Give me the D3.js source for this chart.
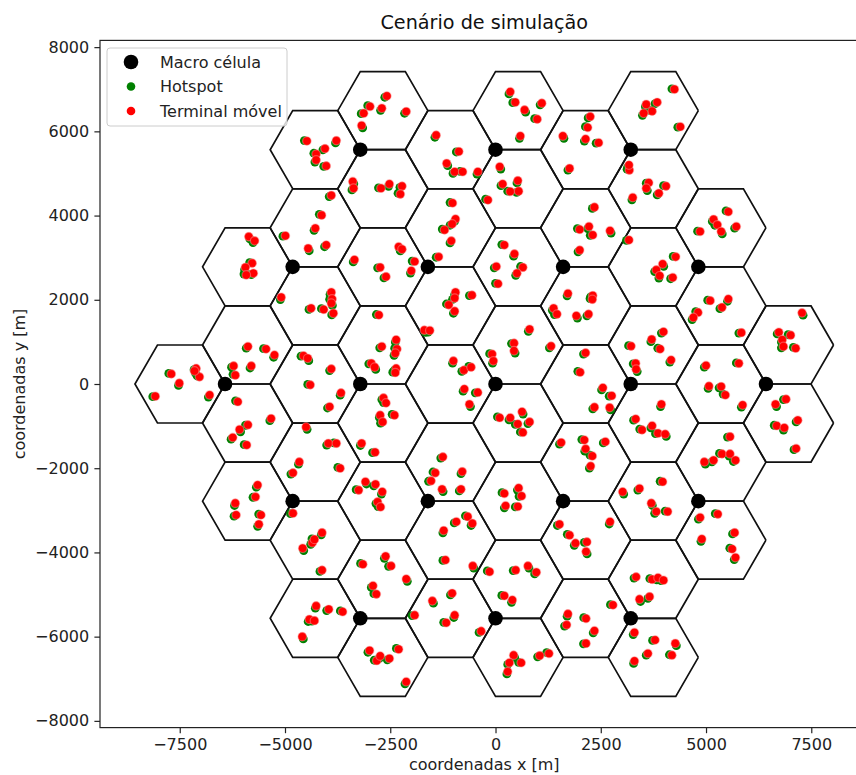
<!DOCTYPE html>
<html>
<head>
<meta charset="utf-8">
<script src="https://cdn.jsdelivr.net/npm/d3@7"></script>
<style>
  body { margin: 0; background: #fff; }
  svg { font-family: "DejaVu Sans", sans-serif; }
</style>
</head>
<body>
<svg id="cenario" width="856" height="775"></svg>
<script>
// limites dos eixos e marcas
var xLim = [-9394, 8859];
var yLim = [-8160, 8160];
var xTicks = [-7500, -5000, -2500, 0, 2500, 5000, 7500];
var yTicks = [-8000, -6000, -4000, -2000, 0, 2000, 4000, 6000, 8000];

// raio do hexagono de cada setor [m]
var raioCelula = 1070;

// posicoes das macro celulas [m]
var macroX = [0, 3212, 6424, -3212, -6424, 1606, 4818, -1606, -4818, 1606, 4818, -1606, -4818, 0, 3212, -3212, 0, 3212, -3212];
var macroY = [0, 0, 0, 0, 0, 2782, 2782, 2782, 2782, -2782, -2782, -2782, -2782, 5564, 5564, 5564, -5564, -5564, -5564];

var legendaTextos = ["Macro célula", "Hotspot", "Terminal móvel"];

// hotspots [x, y] em metros
var hotspots = [
[-2630,6810],[-3035,6610],[-2730,6500],[-3190,6420],[-3155,6085],[-2160,6430],[-4540,5780],[-3800,5725],
[-4100,5560],[-4315,5480],[-4290,5270],[-4080,5170],[-3365,4755],[-3410,4610],[-2780,4660],[-2540,4695],
[-2270,4670],[-2315,4530],[-1440,5860],[-930,5510],[-1135,5185],[-1010,5000],[-840,5050],[-440,4985],
[-3950,4450],[-4185,4030],[-4310,3650],[-5050,3510],[-4425,3165],[-4060,3260],[-1080,4310],[-970,3865],
[-1080,3770],[-1265,3680],[-1080,3350],[-1410,3010],[-5835,3445],[-5760,3360],[-5840,2880],[-5960,2715],
[-5800,2600],[-5975,2610],[-3380,2900],[-2800,2760],[-2275,3205],[-2260,3160],[-1980,2920],[-2020,2635],
[-2650,2520],[-235,4390],[320,6890],[410,6680],[715,6455],[1060,6630],[930,6300],[570,5835],
[2200,6320],[2135,6110],[2110,5770],[2390,5720],[1625,5835],[1720,5080],[4190,7010],[3560,6585],
[3790,6660],[3665,6500],[3490,6380],[4330,6100],[125,5105],[130,4710],[290,4580],[510,4775],
[500,4550],[3125,5100],[3140,5150],[3580,4770],[3605,4595],[3840,4490],[3990,4710],[3240,4375],
[2300,4170],[1945,3690],[2190,3690],[2250,3530],[2745,3585],[1960,3140],[150,3310],[430,3035],
[-30,2760],[595,2790],[480,2580],[3110,3410],[3995,2795],[3780,2670],[4220,3030],[3880,2515],
[4160,2500],[5475,4110],[5150,3860],[5210,3770],[5385,3565],[5680,3700],[4800,3630],[-5110,2005],
[-4430,1770],[-4135,1790],[-3930,2130],[-3940,2010],[-3875,1865],[-3890,1640],[-2830,1650],[-2380,995],
[-2750,860],[-2395,850],[-2410,680],[-3010,480],[-2845,345],[-2400,330],[-2440,280],[-970,2125],
[-1020,2010],[-1165,1900],[-1000,1680],[-620,2100],[-1665,1225],[-1600,1230],[-7760,250],[-7530,-35],
[-7160,340],[-7085,190],[-6820,-310],[-8140,-300],[-7125,255],[-5920,850],[-5510,840],[-5270,635],
[-6270,400],[-6235,230],[-5830,380],[-4620,660],[-4435,555],[-3940,320],[-4460,-10],[-3690,-265],
[-3990,-570],[-6175,-400],[-5360,-870],[-5940,-980],[-6055,-1135],[-6280,-1310],[-5970,-1440],[-1020,495],
[-800,300],[-635,420],[-770,-170],[-480,-210],[-595,-535],[-2700,-370],[-2660,-440],[-2760,-795],
[-2730,-930],[-2455,-720],[-3210,-1460],[-2920,-1630],[-4475,-1075],[-4010,-1450],[-3840,-1400],[-4680,-1905],
[-4860,-2140],[-3745,-1980],[-5680,-2450],[-5760,-2690],[-3065,-2375],[-2890,-2420],[-3310,-2510],[-2710,-2615],
[-1300,-1760],[-1485,-2090],[-820,-2130],[-1590,-2310],[-1245,-2555],[-860,-2540],[0,2390],[1700,2095],
[2260,2070],[2245,2030],[1350,1750],[1400,1650],[1945,1565],[2170,1620],[5040,1990],[5510,1965],
[5330,1790],[4755,1720],[4670,1530],[5780,1210],[7305,1635],[6690,1190],[6950,1170],[6790,995],
[6790,860],[7075,870],[780,1250],[380,960],[465,735],[1280,860],[-140,720],[-70,495],
[2090,710],[1955,300],[2520,-140],[2700,-290],[2735,-615],[2310,-590],[3160,910],[3690,1005],
[3940,1210],[3855,850],[4140,520],[3270,480],[3365,295],[4960,400],[5720,500],[5050,-105],
[5310,-90],[5405,-240],[5840,-550],[6840,-370],[6675,-535],[7140,-900],[6620,-980],[6840,-1095],
[7090,-1560],[45,-780],[320,-850],[470,-960],[655,-715],[770,-940],[590,-1140],[3920,-535],
[3280,-860],[3425,-1070],[3690,-1040],[3800,-1180],[4055,-1245],[1520,-1430],[2050,-1320],[2120,-1595],
[2560,-1400],[2245,-1690],[2230,-2000],[5510,-1260],[4985,-1905],[5140,-1850],[5320,-1650],[5550,-1715],
[5650,-1840],[155,-2580],[520,-2520],[560,-2670],[3045,-2615],[3380,-2520],[3910,-2310],[-6200,-2885],
[-6210,-3140],[-5625,-3090],[-5650,-3380],[-4870,-3080],[-4555,-3955],[-4390,-3810],[-4360,-3680],[-4140,-3585],
[-4170,-4450],[-3205,-4260],[-2640,-4140],[-2540,-4330],[-2095,-4685],[-2950,-4830],[-2890,-4980],[-1250,-3535],
[-980,-3300],[-715,-3130],[-580,-3360],[-1250,-4190],[-515,-4375],[-2840,-2840],[-2790,-2910],[-4280,-5325],
[-4010,-5380],[-3685,-5390],[-4450,-5640],[-4360,-5630],[-4565,-6055],[-3030,-6370],[-2880,-6560],[-2760,-6515],
[-2570,-6550],[-2355,-6280],[-2150,-7120],[-1980,-5500],[-1475,-5205],[-1070,-5010],[-1230,-5660],[-990,-5545],
[-390,-5900],[-195,-4440],[210,-2940],[470,-2920],[3725,-2885],[3780,-3070],[4030,-3020],[2700,-3325],
[1470,-3360],[1705,-3570],[1870,-3830],[2110,-3760],[2175,-4035],[4820,-3210],[5220,-3080],[4880,-3735],
[5630,-3560],[5565,-3900],[5670,-4170],[420,-4430],[795,-4375],[930,-4510],[150,-5020],[380,-5185],
[3290,-4610],[3665,-4620],[3830,-4650],[3930,-4670],[3445,-5165],[3620,-5090],[2730,-5240],[1700,-5515],
[1640,-5750],[2095,-5550],[2320,-5910],[2090,-6170],[455,-6495],[290,-6660],[550,-6610],[270,-6885],
[1000,-6480],[1215,-6380],[3270,-5950],[3730,-6090],[4295,-6215],[3580,-6440],[4130,-6430],[3280,-6635]
];

// terminais moveis [x, y] em metros
var terminais = [
[-2580,6840],[-2980,6590],[-2700,6550],[-3130,6430],[-3180,6140],[-2120,6470],[-4480,5770],[-3780,5780],
[-4050,5590],[-4260,5460],[-4260,5320],[-4020,5180],[-3390,4810],[-3370,4650],[-2720,4650],[-2520,4750],
[-2220,4700],[-2260,4510],[-1410,5910],[-870,5520],[-1160,5240],[-970,5040],[-780,5040],[-420,5040],
[-3900,4480],[-4130,4010],[-4280,3700],[-4990,3520],[-4450,3220],[-4020,3300],[-1020,4300],[-950,3920],
[-1030,3800],[-1210,3660],[-1050,3400],[-1350,3020],[-5860,3500],[-5720,3400],[-5780,2870],[-5940,2770],
[-5750,2630],[-5920,2590],[-3350,2950],[-2740,2770],[-2300,3260],[-2220,3200],[-1920,2910],[-2000,2690],
[-2600,2550],[-180,4370],[350,6940],[470,6690],[690,6510],[1100,6670],[990,6290],[590,5890],
[2250,6350],[2190,6090],[2140,5820],[2450,5730],[1600,5890],[1760,5120],[4250,7000],[3580,6640],
[3840,6690],[3720,6480],[3520,6430],[4390,6110],[100,5160],[170,4750],[350,4570],[530,4830],
[550,4580],[3180,5080],[3170,5200],[3640,4780],[3580,4650],[3880,4530],[4050,4700],[3260,4430],
[2350,4200],[2000,3670],[2220,3740],[2310,3540],[2720,3640],[2000,3180],[210,3300],[450,3090],
[20,2790],[650,2770],[510,2630],[3170,3420],[3970,2850],[3820,2710],[4280,3020],[3900,2570],
[4210,2530],[5530,4090],[5180,3910],[5270,3780],[5360,3620],[5720,3740],[4860,3620],[-5090,2060],
[-4380,1800],[-4080,1770],[-3900,2180],[-3880,2020],[-3900,1920],[-3850,1680],[-2770,1640],[-2360,1050],
[-2700,890],[-2340,830],[-2380,730],[-2950,490],[-2870,400],[-2360,370],[-2380,270],[-950,2180],
[-970,2040],[-1110,1880],[-970,1730],[-560,2110],[-1690,1280],[-1560,1270],[-7700,240],[-7510,20],
[-7110,370],[-7030,170],[-6790,-260],[-8080,-290],[-7150,310],[-5880,890],[-5450,830],[-5250,690],
[-6220,430],[-6180,210],[-5800,430],[-4560,670],[-4460,610],[-3900,360],[-4400,-20],[-3670,-210],
[-3940,-540],[-6120,-420],[-5330,-820],[-5880,-970],[-6080,-1080],[-6240,-1270],[-5910,-1450],[-1000,550],
[-750,330],[-580,400],[-740,-120],[-420,-200],[-620,-480],[-2660,-330],[-2600,-450],[-2740,-740],
[-2680,-900],[-2400,-740],[-3180,-1410],[-2860,-1620],[-4500,-1020],[-3970,-1410],[-3780,-1410],[-4660,-1850],
[-4810,-2110],[-3690,-2000],[-5650,-2400],[-5700,-2680],[-3090,-2320],[-2850,-2380],[-3250,-2520],[-2690,-2560],
[-1250,-1730],[-1430,-2110],[-790,-2080],[-1530,-2300],[-1270,-2500],[-820,-2500],[60,2380],[1720,2150],
[2310,2100],[2300,2010],[1380,1800],[1460,1660],[1920,1620],[2210,1660],[5100,1980],[5530,2020],
[5380,1820],[4810,1700],[4700,1580],[5840,1220],[7280,1690],[6730,1230],[7010,1160],[6810,1050],
[6840,890],[7130,850],[810,1300],[440,970],[440,790],[1320,900],[-80,710],[-50,550],
[2140,740],[2010,280],[2550,-90],[2760,-280],[2710,-560],[2350,-550],[3220,900],[3710,1060],
[3990,1240],[3910,830],[4170,570],[3330,490],[3340,350],[5000,440],[5780,490],[5070,-50],
[5360,-60],[5460,-260],[5870,-500],[6900,-360],[6650,-480],[7180,-860],[6680,-990],[6860,-1040],
[7140,-1530],[100,-800],[350,-800],[530,-950],[630,-660],[810,-900],[650,-1150],[3940,-480],
[3330,-830],[3480,-1090],[3720,-990],[3860,-1170],[4030,-1190],[1560,-1390],[2110,-1330],[2140,-1540],
[2610,-1370],[2300,-1710],[2260,-1950],[5570,-1250],[4960,-1850],[5180,-1810],[5380,-1660],[5570,-1660],
[5700,-1810],[210,-2600],[550,-2470],[620,-2660],[3020,-2560],[3420,-2480],[3970,-2320],[-6180,-2830],
[-6160,-3110],[-5570,-3110],[-5620,-3330],[-4810,-3070],[-4580,-3900],[-4350,-3770],[-4300,-3690],[-4120,-3530],
[-4120,-4420],[-3150,-4280],[-2610,-4090],[-2480,-4320],[-2120,-4630],[-2910,-4790],[-2830,-4990],[-1230,-3480],
[-930,-3270],[-660,-3150],[-550,-3310],[-1190,-4180],[-540,-4320],[-2800,-2800],[-2730,-2920],[-4260,-5270],
[-3960,-5350],[-3630,-5410],[-4420,-5590],[-4300,-5620],[-4590,-6000],[-2990,-6330],[-2820,-6570],[-2740,-6460],
[-2520,-6520],[-2300,-6300],[-2120,-7070],[-1920,-5490],[-1500,-5150],[-1030,-4970],[-1170,-5670],[-970,-5490],
[-340,-5870],[-140,-4460],[240,-2890],[530,-2910],[3700,-2830],[3820,-3030],[4090,-3030],[2720,-3270],
[1520,-3330],[1760,-3590],[1900,-3780],[2170,-3750],[2150,-3980],[4860,-3170],[5280,-3090],[4900,-3680],
[5680,-3530],[5620,-3920],[5700,-4120],[480,-4420],[770,-4320],[970,-4470],[210,-5030],[400,-5130],
[3340,-4580],[3720,-4640],[3860,-4600],[3990,-4660],[3420,-5110],[3660,-5050],[2790,-5250],[1720,-5460],
[1690,-5720],[2150,-5570],[2350,-5860],[2150,-6160],[430,-6440],[330,-6620],[610,-6620],[290,-6830],
[1050,-6450],[1270,-6400],[3300,-5900],[3790,-6080],[4270,-6160],[3620,-6400],[4190,-6440],[3300,-6580]
];

var svg = d3.select('#cenario');
var plot = {left: 100, right: 868.5, top: 40.4, bottom: 727.6};

var x = d3.scaleLinear().domain(xLim).range([plot.left, plot.right]);
var y = d3.scaleLinear().domain(yLim).range([plot.bottom, plot.top]);

var fmt = function(d) { return d < 0 ? "\u2212" + Math.abs(d) : String(d); };

// hexagonos: cada macro celula tem 3 setores
var hexCentros = [];
macroX.forEach(function(mx, i) {
    var my = macroY[i];
    [180, 60, -60].forEach(function(a) {
        var r = a * Math.PI / 180;
        hexCentros.push([mx + raioCelula * Math.cos(r), my + raioCelula * Math.sin(r)]);
    });
});

var hexLine = function(c) {
    var pts = d3.range(7).map(function(k) {
        var r = k * Math.PI / 3;
        return [x(c[0] + raioCelula * Math.cos(r)), y(c[1] + raioCelula * Math.sin(r))];
    });
    return d3.line()(pts);
};

svg.append("clipPath").attr("id", "area")
    .append("rect")
    .attr("x", plot.left).attr("y", plot.top)
    .attr("width", plot.right - plot.left).attr("height", plot.bottom - plot.top);

var g = svg.append("g").attr("clip-path", "url(#area)");

g.selectAll("path.hex")
    .data(hexCentros)
    .enter()
    .append("path")
    .attr("class", "hex")
    .attr("d", hexLine)
    .attr("fill", "none")
    .attr("stroke", "#111")
    .attr("stroke-width", 1.7);

g.selectAll("circle.macro")
    .data(macroX)
    .enter()
    .append("circle")
    .attr("class", "macro")
    .attr("cx", function(d) { return x(d); })
    .attr("cy", function(d, i) { return y(macroY[i]); })
    .attr("r", 7.3)
    .attr("fill", "#000");

g.selectAll("circle.hotspot")
    .data(hotspots)
    .enter()
    .append("circle")
    .attr("class", "hotspot")
    .attr("cx", function(d) { return x(d[0]); })
    .attr("cy", function(d) { return y(d[1]); })
    .attr("r", 4.4)
    .attr("fill", "#008000");

g.selectAll("circle.terminal")
    .data(terminais)
    .enter()
    .append("circle")
    .attr("class", "terminal")
    .attr("cx", function(d) { return x(d[0]); })
    .attr("cy", function(d) { return y(d[1]); })
    .attr("r", 4.3)
    .attr("fill", "#ff0000")
    .attr("stroke", "#ff9c9c")
    .attr("stroke-opacity", 0.45)
    .attr("stroke-width", 1.2);

// eixos
var xAxis = d3.axisBottom(x).tickValues(xTicks).tickFormat(fmt).tickSize(5.6).tickPadding(5.2);
var yAxis = d3.axisLeft(y).tickValues(yTicks).tickFormat(fmt).tickSize(5.6).tickPadding(5.2);

svg.append("g")
    .attr("transform", "translate(0," + plot.bottom + ")")
    .call(xAxis)
    .call(function(s) { s.select(".domain").remove(); });

svg.append("g")
    .attr("transform", "translate(" + plot.left + ",0)")
    .call(yAxis)
    .call(function(s) { s.select(".domain").remove(); });

svg.selectAll(".tick text")
    .attr("font-family", "DejaVu Sans, sans-serif")
    .attr("font-size", "16px")
    .attr("fill", "#222");
svg.selectAll(".tick line").attr("stroke", "#222").attr("stroke-width", 1.2);

// moldura
svg.append("rect")
    .attr("x", plot.left).attr("y", plot.top)
    .attr("width", plot.right - plot.left).attr("height", plot.bottom - plot.top)
    .attr("fill", "none")
    .attr("stroke", "#222")
    .attr("stroke-width", 1.2);

// textos
svg.append("text")
    .attr("x", (plot.left + plot.right) / 2).attr("y", 29)
    .attr("text-anchor", "middle")
    .attr("font-size", "19.2px")
    .attr("fill", "#111")
    .text("Cenário de simulação");

svg.append("text")
    .attr("x", (plot.left + plot.right) / 2).attr("y", 770)
    .attr("text-anchor", "middle")
    .attr("font-size", "16px")
    .attr("fill", "#222")
    .text("coordenadas x [m]");

svg.append("text")
    .attr("transform", "translate(25," + ((plot.top + plot.bottom) / 2) + ") rotate(-90)")
    .attr("text-anchor", "middle")
    .attr("font-size", "16px")
    .attr("fill", "#222")
    .text("coordenadas y [m]");

// legenda
var leg = svg.append("g").attr("transform", "translate(107,48)");
leg.append("rect")
    .attr("width", 180).attr("height", 78)
    .attr("rx", 3)
    .attr("fill", "#fff").attr("fill-opacity", 0.8)
    .attr("stroke", "#ccc").attr("stroke-width", 1);

var legCores = ["#000", "#008000", "#ff0000"];
var legRaios = [7.3, 4.3, 4.3];
legendaTextos.forEach(function(t, i) {
    var yy = 14 + i * 24.5;
    leg.append("circle").attr("cx", 24).attr("cy", yy).attr("r", legRaios[i]).attr("fill", legCores[i]);
    leg.append("text").attr("x", 53).attr("y", yy).attr("dy", "0.35em")
        .attr("font-size", "16px").attr("fill", "#222").text(t);
});
</script>
</body>
</html>
